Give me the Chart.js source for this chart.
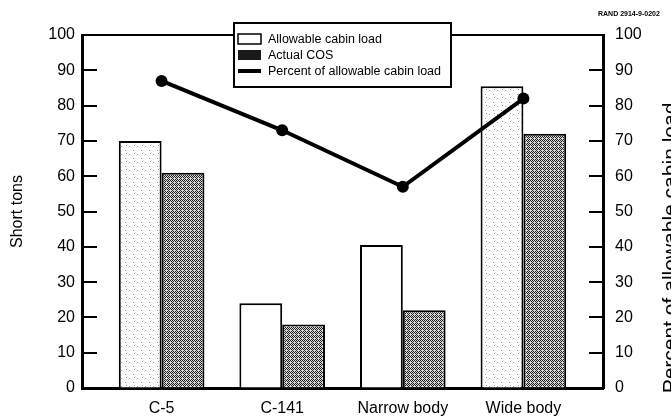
<!DOCTYPE html>
<html>
<head>
<meta charset="utf-8">
<script src="https://cdn.jsdelivr.net/npm/chart.js@4.4.1/dist/chart.umd.min.js"></script>
<style>
  html, body { margin: 0; padding: 0; background: #fff; overflow: hidden; }
  #wrap { width: 684px; height: 420px; }
</style>
</head>
<body>
<div id="wrap"><canvas id="chart" width="684" height="420"></canvas></div>
<script>
// data
const categories       = ['C-5', 'C-141', 'Narrow body', 'Wide body'];
const allowableLoad    = [70, 24, 40.5, 85.5];   // short tons
const actualCos        = [61, 18, 22, 72];       // short tons
const percentAllowable = [87, 73, 57, 82];       // percent (right axis)
const seriesNames      = ['Allowable cabin load', 'Actual COS', 'Percent of allowable cabin load'];
const leftTitle  = 'Short tons';
const rightTitle = 'Percent of allowable cabin load';
const stamp      = 'RAND 2914-9-0202';

const FONT = "'Liberation Sans', Arial, sans-serif";
Chart.defaults.font.family = FONT;
Chart.defaults.color = '#000';

/** small fill textures to stand in for the photocopied screens */
function makePattern(size, paint) {
  const c = document.createElement('canvas');
  c.width = c.height = size;
  paint(c.getContext('2d'));
  return c.getContext('2d').createPattern(c, 'repeat');
}
const stipple = makePattern(8, g => {
  g.fillStyle = '#fff'; g.fillRect(0, 0, 8, 8);
  g.fillStyle = '#9a9a9a';
  g.fillRect(1, 2, 1, 1); g.fillRect(5, 6, 1, 1); g.fillRect(6, 1, 1, 1);
});
const checker = makePattern(4, g => {
  g.fillStyle = '#d8d8d8'; g.fillRect(0, 0, 4, 4);
  g.fillStyle = '#222';
  g.fillRect(0, 0, 1, 1); g.fillRect(2, 0, 1, 1); g.fillRect(1, 1, 1, 1); g.fillRect(3, 1, 1, 1);
  g.fillRect(0, 2, 1, 1); g.fillRect(1, 3, 1, 1); g.fillRect(3, 3, 1, 1);
});

const xy = vals => vals.map((v, i) => ({ x: i, y: v }));

/** inward tick marks, top frame line, right title, stamp */
const frameExtras = {
  id: 'frameExtras',
  afterDraw(chart) {
    const { ctx, chartArea: a, scales } = chart;
    ctx.save();
    ctx.strokeStyle = '#000';
    ctx.lineWidth = 2;
    ctx.beginPath();
    ctx.moveTo(a.left, a.top); ctx.lineTo(a.right, a.top);
    scales.y.ticks.forEach(t => {
      if (t.value <= 0 || t.value >= 100) return;
      const py = Math.round(scales.y.getPixelForValue(t.value));
      ctx.moveTo(a.left, py); ctx.lineTo(a.left + 15, py);
    });
    scales.y1.ticks.forEach(t => {
      if (t.value <= 0 || t.value >= 100) return;
      const py = Math.round(scales.y1.getPixelForValue(t.value));
      ctx.moveTo(a.right - 14, py); ctx.lineTo(a.right, py);
    });
    ctx.stroke();

    ctx.fillStyle = '#000';
    ctx.font = `21px ${FONT}`;
    ctx.textAlign = 'center';
    ctx.textBaseline = 'alphabetic';
    ctx.translate(677, 248);
    ctx.rotate(-Math.PI / 2);
    ctx.fillText(rightTitle, 0, 0);
    ctx.setTransform(1, 0, 0, 1, 0, 0);

    ctx.font = `bold 7px ${FONT}`;
    ctx.textAlign = 'left';
    ctx.textBaseline = 'middle';
    ctx.fillText(stamp, 598, 14);
    ctx.restore();
  }
};

/** boxed legend sitting over the top frame line */
const boxLegend = {
  id: 'boxLegend',
  afterDraw(chart) {
    const { ctx, chartArea: a } = chart;
    const w = 217, h = 64;
    const x = Math.round((a.left + a.right) / 2 - w / 2), y = 23;
    ctx.save();
    ctx.fillStyle = '#fff';
    ctx.fillRect(x, y, w, h);
    ctx.strokeStyle = '#000';
    ctx.lineWidth = 2;
    ctx.strokeRect(x, y, w, h);
    ctx.font = `12.5px ${FONT}`;
    ctx.textBaseline = 'middle';
    chart.data.datasets.forEach((ds, i) => {
      const cy = y + 16 + i * 16;
      if (ds.type === 'line') {
        ctx.lineWidth = 4;
        ctx.beginPath(); ctx.moveTo(x + 4, cy); ctx.lineTo(x + 27, cy); ctx.stroke();
      } else if (i === 0) {
        ctx.lineWidth = 1.5;
        ctx.fillStyle = '#fff';
        ctx.fillRect(x + 4, cy - 5, 23, 10);
        ctx.strokeRect(x + 4, cy - 5, 23, 10);
      } else {
        ctx.fillStyle = '#1a1a1a';
        ctx.fillRect(x + 4, cy - 5, 23, 10);
      }
      ctx.fillStyle = '#000';
      ctx.fillText(ds.label, x + 34, cy + 1);
    });
    ctx.restore();
  }
};

new Chart(document.getElementById('chart'), {
  type: 'bar',
  data: {
    datasets: [
      {
        label: seriesNames[0],
        data: xy(allowableLoad),
        backgroundColor: [stipple, '#fff', '#fff', stipple],
        borderColor: '#000',
        borderWidth: 2,
        categoryPercentage: 0.71,
        barPercentage: 1,
        order: 1,
      },
      {
        label: seriesNames[1],
        data: xy(actualCos),
        backgroundColor: checker,
        borderColor: '#000',
        borderWidth: 2,
        categoryPercentage: 0.71,
        barPercentage: 1,
        order: 1,
      },
      {
        type: 'line',
        label: seriesNames[2],
        data: xy(percentAllowable),
        yAxisID: 'y1',
        borderColor: '#000',
        borderWidth: 4,
        pointRadius: 6,
        pointBackgroundColor: '#000',
        pointBorderWidth: 0,
        order: 0,
      },
    ],
  },
  options: {
    responsive: false,
    animation: false,
    layout: { padding: { top: 35, left: 0, right: 0, bottom: 0 } },
    plugins: { legend: { display: false }, tooltip: { enabled: false } },
    scales: {
      x: {
        type: 'linear',
        offset: false,
        min: -0.66,
        max: 3.66,
        grid: { display: true, drawOnChartArea: false, drawTicks: false },
        border: { color: '#000', width: 3 },
        ticks: {
          stepSize: 1,
          includeBounds: false,
          autoSkip: false,
          maxRotation: 0,
          padding: 11,
          font: { size: 16 },
          callback: v => Number.isInteger(v) ? categories[v] : '',
        },
        afterFit: s => { s.height = 32; },
      },
      y: {
        position: 'left',
        min: 0,
        max: 100,
        grid: { display: true, drawOnChartArea: false, drawTicks: false },
        border: { color: '#000', width: 3 },
        ticks: { stepSize: 10, padding: 7, font: { size: 16 } },
        title: { display: true, text: leftTitle, font: { size: 16 }, padding: { top: 8, bottom: 0 } },
        afterFit: s => { s.width = 82; },
      },
      y1: {
        position: 'right',
        min: 0,
        max: 100,
        grid: { display: true, drawOnChartArea: false, drawTicks: false },
        border: { color: '#000', width: 3 },
        ticks: { stepSize: 10, padding: 12, font: { size: 16 } },
        afterFit: s => { s.width = 81; },
      },
    },
  },
  plugins: [frameExtras, boxLegend],
});
</script>
</body>
</html>
